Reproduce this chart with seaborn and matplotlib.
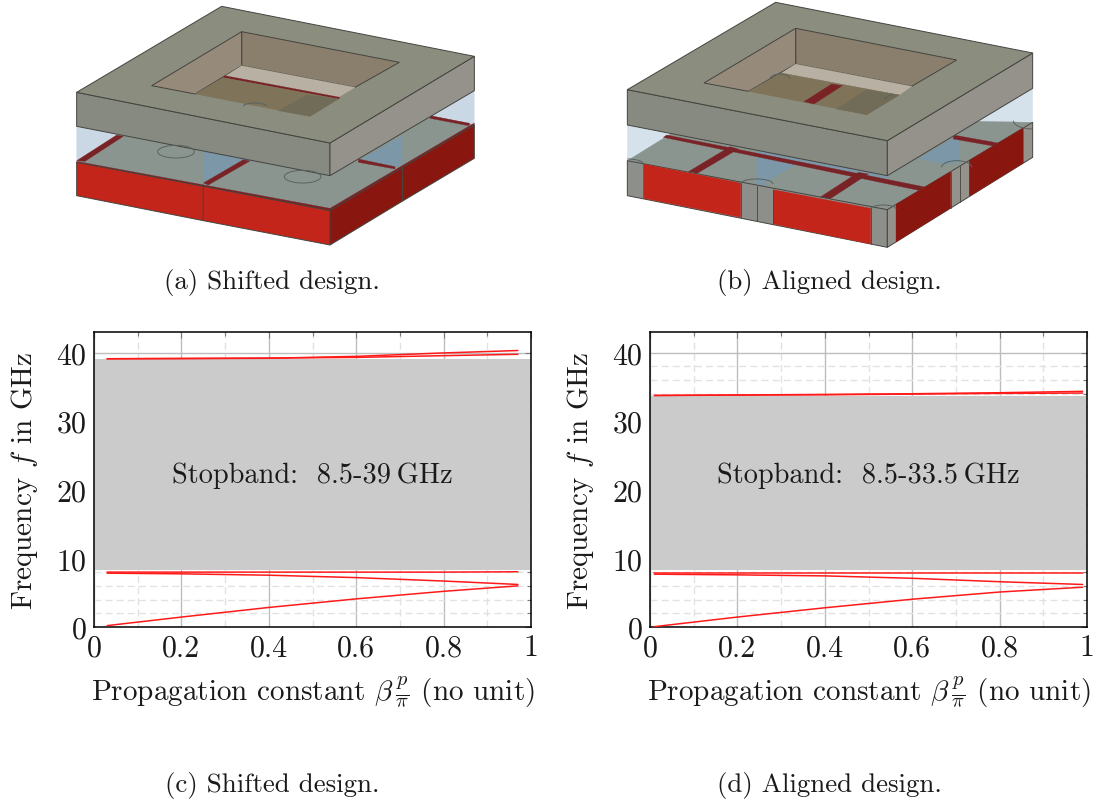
import numpy as np
import pandas as pd
import matplotlib
matplotlib.use("Agg")
import matplotlib.pyplot as plt
import seaborn as sns
from matplotlib.patches import Polygon, Arc

# band diagram values
beta_c = [0.03, 0.2, 0.4, 0.6, 0.8, 0.97]
beta_d = [0.01, 0.2, 0.4, 0.6, 0.8, 0.99]
bands_c = {
    "b1": [0.2, 1.45, 2.85, 4.1, 5.2, 6.0],
    "b2": [7.85, 7.75, 7.55, 7.2, 6.7, 6.2],
    "b3": [8.0, 8.0, 8.0, 8.0, 8.0, 8.05],
    "b4": [39.1, 39.15, 39.2, 39.3, 39.55, 39.75],
    "b5": [39.1, 39.12, 39.17, 39.45, 39.95, 40.3],
}
bands_d = {
    "b1": [0.05, 1.45, 2.8, 4.05, 5.1, 5.8],
    "b2": [7.7, 7.6, 7.45, 7.1, 6.6, 6.2],
    "b3": [7.85, 7.85, 7.85, 7.85, 7.85, 7.85],
    "b4": [33.75, 33.8, 33.85, 33.95, 34.05, 34.1],
    "b5": [33.75, 33.82, 33.9, 34.0, 34.15, 34.35],
}
stop_c = (8.3, 39.05)
stop_d = (8.3, 33.7)
xticks = [0, 0.2, 0.4, 0.6, 0.8, 1]
xticklabels = ["0", "0.2", "0.4", "0.6", "0.8", "1"]
yticks = [0, 10, 20, 30, 40]

RED = "#c3251a"
DKRED = "#8a170f"
STRIP = "#7a2327"
TEAL = "#8a9590"
AIR = "#c9d8e4"
AIR2 = "#d5e2ec"
AIRD = "#7c97a7"
TOP = "#8b8d7f"
FRONT = "#878a80"
SIDE = "#95928c"
WALLB = "#8a7f6c"
WALLL = "#968a7b"
FLOOR = "#7f7359"
FLOORD = "#716c58"
LIGHT = "#b8b1a3"
GRAY = "#8d8f8b"
EDGE = "#44443f"

# (colour, outline?, corners) in zoomed render coordinates
shifted = [
    (AIR, False, [(50, 280), (1243, 172), (1243, 378), (810, 635), (50, 487)]),
    (TEAL, False, [(50, 487), (490, 215), (1243, 378), (810, 635)]),
    (AIRD, False, [(430, 440), (810, 520), (810, 540), (430, 560)]),
    (TEAL, False, [(440, 555), (570, 485), (1005, 505), (810, 628)]),
    (AIRD, False, [(905, 480), (1028, 410), (1028, 495), (1005, 505)]),
    (TEAL, False, [(1028, 405), (1110, 355), (1225, 378), (1028, 495)]),
    (STRIP, False, [(50, 485), (170, 408), (190, 412), (75, 487)]),
    (STRIP, False, [(50, 487), (810, 628), (810, 637), (50, 494)]),
    (STRIP, False, [(430, 552), (550, 482), (570, 486), (445, 558)]),
    (STRIP, False, [(895, 480), (1005, 503), (1005, 510), (895, 490)]),
    (STRIP, False, [(1110, 350), (1230, 373), (1225, 380), (1110, 358)]),
    (STRIP, False, [(810, 628), (1243, 372), (1243, 380), (810, 637)]),
    (RED, True, [(50, 490), (430, 562), (430, 665), (50, 590)]),
    (RED, True, [(430, 562), (810, 635), (810, 738), (430, 665)]),
    (DKRED, True, [(810, 635), (1028, 505), (1028, 606), (810, 738)]),
    (DKRED, True, [(1028, 505), (1243, 378), (1243, 478), (1028, 606)]),
    (FRONT, True, [(50, 280), (810, 432), (810, 530), (50, 382)]),
    (SIDE, True, [(810, 432), (1243, 172), (1243, 275), (810, 530)]),
    (TOP, True, [(485, 22), (1243, 172), (810, 432), (50, 280)]),
    (WALLB, True, [(545, 98), (1018, 190), (885, 265), (545, 200)]),
    (WALLL, True, [(545, 98), (545, 200), (405, 285), (275, 260)]),
    (LIGHT, False, [(545, 200), (885, 265), (835, 295), (495, 232)]),
    (STRIP, False, [(495, 230), (840, 295), (835, 300), (490, 236)]),
    (FLOOR, False, [(490, 236), (835, 300), (750, 352), (405, 285)]),
    (FLOORD, False, [(740, 288), (835, 300), (750, 352), (655, 335)]),
]
shifted_rings = [(348, 458, 110, 38, 0, 360), (728, 533, 110, 38, 0, 360),
                 (585, 322, 70, 20, 180, 360)]

aligned = [
    (AIR2, False, [(52, 272), (1268, 162), (1268, 370), (832, 632), (52, 485)]),
    (TEAL, False, [(52, 485), (270, 350), (1268, 370), (832, 632)]),
    (AIRD, False, [(440, 440), (832, 525), (832, 540), (440, 560)]),
    (TEAL, False, [(460, 555), (570, 490), (950, 575), (832, 632)]),
    (AIRD, False, [(925, 480), (1050, 405), (1050, 490), (1005, 495)]),
    (STRIP, False, [(160, 415), (170, 408), (950, 565), (940, 577)]),
    (STRIP, False, [(235, 518), (360, 443), (385, 450), (262, 523)]),
    (STRIP, False, [(625, 598), (745, 520), (775, 525), (655, 603)]),
    (STRIP, False, [(1030, 408), (1165, 432), (1155, 442), (1030, 420)]),
    (GRAY, True, [(52, 485), (832, 632), (832, 745), (52, 590)]),
    (RED, False, [(100, 495), (392, 552), (392, 655), (100, 598)]),
    (RED, False, [(490, 572), (782, 628), (782, 735), (490, 675)]),
    (SIDE, True, [(832, 632), (1268, 370), (1268, 475), (832, 745)]),
    (DKRED, False, [(858, 616), (1022, 518), (1022, 627), (858, 729)]),
    (DKRED, False, [(1078, 484), (1240, 387), (1240, 492), (1078, 592)]),
    (FRONT, True, [(52, 272), (832, 425), (832, 530), (52, 378)]),
    (SIDE, True, [(832, 425), (1268, 162), (1268, 268), (832, 530)]),
    (TOP, True, [(497, 10), (1268, 162), (832, 425), (52, 272)]),
    (WALLB, True, [(557, 88), (1040, 183), (905, 262), (557, 195)]),
    (WALLL, True, [(557, 88), (557, 195), (415, 277), (282, 252)]),
    (LIGHT, False, [(557, 195), (905, 262), (868, 288), (515, 222)]),
    (FLOOR, False, [(515, 222), (868, 288), (770, 347), (415, 277)]),
    (FLOORD, False, [(770, 272), (868, 288), (770, 347), (680, 330)]),
    (STRIP, False, [(665, 255), (697, 260), (612, 315), (582, 308)]),
]
aligned_dividers = [(392, 552, 392, 655), (440, 560, 440, 665), (490, 572, 490, 675),
                    (782, 628, 782, 735), (1022, 518, 1022, 627), (1050, 502, 1050, 610),
                    (1078, 484, 1078, 592)]
aligned_rings = [(52, 495, 96, 30, 270, 360), (440, 555, 98, 30, 180, 360),
                 (820, 630, 76, 24, 180, 360), (1040, 505, 90, 40, 180, 360),
                 (1268, 365, 116, 50, 90, 180), (510, 240, 60, 30, 180, 360),
                 (850, 303, 50, 30, 180, 270)]


def draw_render(ax, parts, rings, ox, lines=()):
    for color, outlined, pts in parts:
        xy = [(ox + px / 3, py / 3) for px, py in pts]
        ax.add_patch(Polygon(xy, closed=True, facecolor=color,
                             edgecolor=EDGE if outlined else color,
                             linewidth=0.7 if outlined else 0.2, zorder=2))
    for x0, y0, x1, y1 in lines:
        ax.plot([ox + x0 / 3, ox + x1 / 3], [y0 / 3, y1 / 3], color=EDGE, lw=0.6, zorder=3)
    for cx, cy, w, h, t0, t1 in rings:
        ax.add_patch(Arc((ox + cx / 3, cy / 3), w / 3, h / 3, theta1=t0, theta2=t1,
                         edgecolor="#5a625f", linewidth=0.7, zorder=3))


def draw_bands(ax, beta, bands, stop, text):
    ax.fill_between([0, 1], stop[0], stop[1], color="#cbcbcb", linewidth=0, zorder=2)
    for name, vals in bands.items():
        df = pd.DataFrame({"beta": beta, "f": vals})
        sns.lineplot(data=df, x="beta", y="f", color="#ff1a1a", linewidth=1.1,
                     estimator=None, sort=False, ax=ax, zorder=3)
    ax.set_xlim(0, 1)
    ax.set_ylim(0, 43)
    ax.set_xticks(xticks)
    ax.set_xticklabels(xticklabels)
    ax.set_yticks(yticks)
    ax.set_xticks(np.arange(1, 10, 2) / 10, minor=True)
    # minor ticks stop at the last major tick
    ax.set_yticks([v for v in range(2, 40, 2) if v % 10], minor=True)
    ax.grid(True, which="major", color="#bdbdbd", linewidth=1.0, linestyle="-", zorder=1)
    ax.grid(True, which="minor", color="#e2e2e2", linewidth=1.0, linestyle=(0, (5, 3)), zorder=1)
    ax.set_axisbelow(True)
    ax.tick_params(which="major", direction="in", length=4, width=0.8, color="#7d7d7d",
                   top=True, right=True, labelsize=21.5, pad=5)
    ax.tick_params(which="minor", direction="in", length=3, width=0.8, color="#7d7d7d",
                   top=True, right=True)
    for s in ax.spines.values():
        s.set_linewidth(1.1)
        s.set_color("black")
    ax.set_xlabel(r"Propagation constant $\beta\,\frac{p}{\pi}$ (no unit)", fontsize=21, va="center")
    ax.set_ylabel(r"Frequency $f$ in GHz", fontsize=21, va="center")
    ax.xaxis.set_label_coords(0.5, -0.217)
    ax.yaxis.set_label_coords(-0.16, 0.5)
    ax.text(0.5, 22.2, text, ha="center", va="center", fontsize=20.4, zorder=4)


sns.set_theme(style="white")
plt.rcParams["font.family"] = ["cmr10", "DejaVu Serif"]
plt.rcParams["mathtext.fontset"] = "cm"
plt.rcParams["axes.formatter.use_mathtext"] = True
plt.rcParams["axes.unicode_minus"] = False
plt.rcParams["text.color"] = "#1a1a1a"
plt.rcParams["xtick.color"] = "#1a1a1a"
plt.rcParams["ytick.color"] = "#1a1a1a"
plt.rcParams["axes.labelcolor"] = "#1a1a1a"

W, H = 1100, 804
fig = plt.figure(figsize=(W / 100, H / 100), dpi=100, facecolor="white")

# pixel overlay for the two renders and the captions
bg = fig.add_axes([0, 0, 1, 1])
bg.set_xlim(0, W)
bg.set_ylim(H, 0)
bg.axis("off")
draw_render(bg, shifted, shifted_rings, 60)
draw_render(bg, aligned, aligned_rings, 610, aligned_dividers)
for cx, cy, cap in [(272, 283, "(a) Shifted design."), (829, 283, "(b) Aligned design."),
                    (272, 786, "(c) Shifted design."), (829, 786, "(d) Aligned design.")]:
    bg.text(cx, cy, cap, ha="center", va="center", fontsize=19.4)

ax_c = fig.add_axes([94 / W, 1 - 628 / H, 437 / W, 295 / H])
ax_d = fig.add_axes([650 / W, 1 - 628 / H, 437 / W, 295 / H])
draw_bands(ax_c, beta_c, bands_c, stop_c, "Stopband:  8.5-39\u2009GHz")
draw_bands(ax_d, beta_d, bands_d, stop_d, "Stopband:  8.5-33.5\u2009GHz")

fig.savefig("out.png", dpi=100)
plt.close(fig)
